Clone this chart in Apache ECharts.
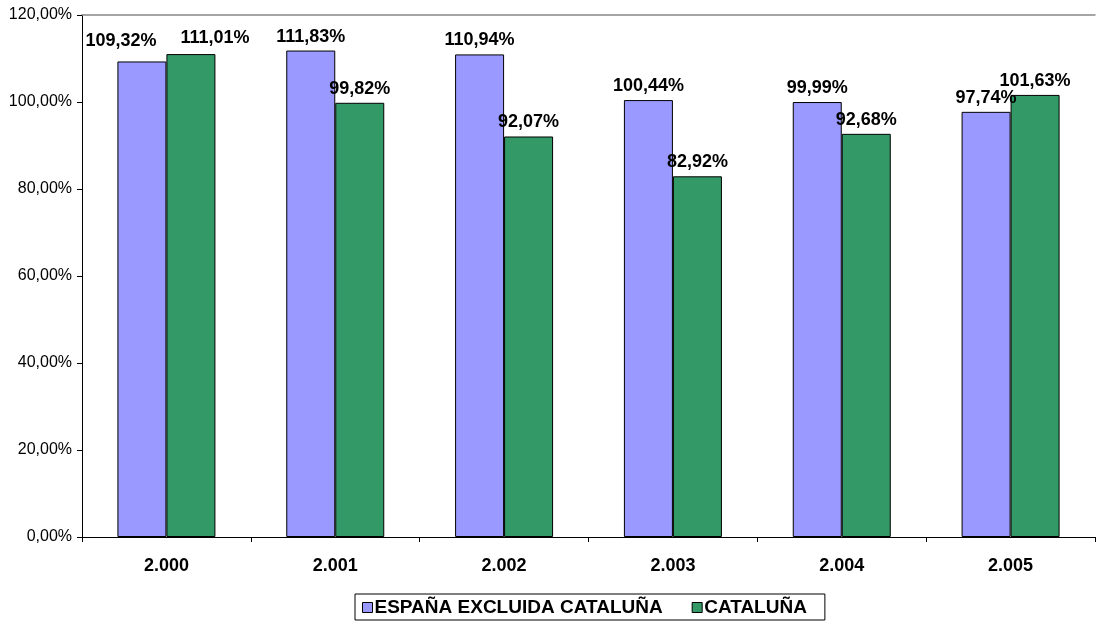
<!DOCTYPE html>
<html><head><meta charset="utf-8">
<script src="https://cdn.jsdelivr.net/npm/echarts@6/dist/echarts.min.js"></script>
<style>html,body{margin:0;padding:0;background:#fff}#c{width:1096px;height:622px}</style>
</head><body><div id="c"></div>
<script>
const categories = ['2.000','2.001','2.002','2.003','2.004','2.005'];
const espana = [109.32, 111.83, 110.94, 100.44, 99.99, 97.74];
const cataluna = [111.01, 99.82, 92.07, 82.92, 92.68, 101.63];
const seriesNames = ['ESPAÑA EXCLUIDA CATALUÑA', 'CATALUÑA'];
// label nudges (to avoid overlap, as in the original)
const shiftEsp = {0:[-21,-6]};
const shiftCat = {0:[24,-2]};
const fmt = v => v.toFixed(2).replace('.', ',') + '%';
const font = 'Arial, "Liberation Sans", sans-serif';
const chart = echarts.init(document.getElementById('c'));
const lbl = {show:true, position:'top', distance:5, formatter:p=>fmt(p.value), color:'#000', fontWeight:'bold', fontSize:18, fontFamily:font};
const build = (arr, shifts) => arr.map((v,i)=> shifts[i] ? {value:v, label:{offset:shifts[i]}} : v);
chart.setOption({
  animation:false,
  grid:{left:82, right:1, top:15, bottom:85},
  legend:{
    bottom:2, left:355, data:seriesNames, icon:'rect',
    borderColor:'#000', borderWidth:1, padding:[4,18,3,7],
    itemWidth:10, itemHeight:10, itemGap:29,
    textStyle:{fontWeight:'bold', fontSize:19, fontFamily:font, color:'#000', padding:[0,0,0,-3]},
    itemStyle:{borderColor:'#000', borderWidth:1}
  },
  xAxis:[{
    type:'category', data:categories,
    axisLine:{lineStyle:{color:'#000'}},
    axisTick:{show:true, lineStyle:{color:'#000'}, length:5},
    axisLabel:{fontWeight:'bold', fontSize:18, fontFamily:font, color:'#000', margin:20}
  },{
    type:'category', data:categories, position:'top',
    axisLine:{show:true, lineStyle:{color:'#888', width:1.5}},
    axisTick:{show:false}, axisLabel:{show:false}
  }],
  yAxis:{
    type:'value', min:0, max:120, interval:20,
    axisLine:{show:true, lineStyle:{color:'#000'}},
    axisTick:{show:true, lineStyle:{color:'#000'}, length:5},
    splitLine:{show:false},
    axisLabel:{formatter:v=>v.toFixed(2).replace('.', ',')+'%', fontSize:16, fontFamily:font, color:'#000', margin:10}
  },
  series:[
    {name:seriesNames[0], type:'bar', data:build(espana, shiftEsp), barWidth:49, barGap:'0%',
     itemStyle:{color:'#9999FF', borderColor:'#000', borderWidth:1}, label:lbl},
    {name:seriesNames[1], type:'bar', data:build(cataluna, shiftCat), barWidth:49, barGap:'0%',
     itemStyle:{color:'#339966', borderColor:'#000', borderWidth:1}, label:lbl}
  ]
});
</script></body></html>
